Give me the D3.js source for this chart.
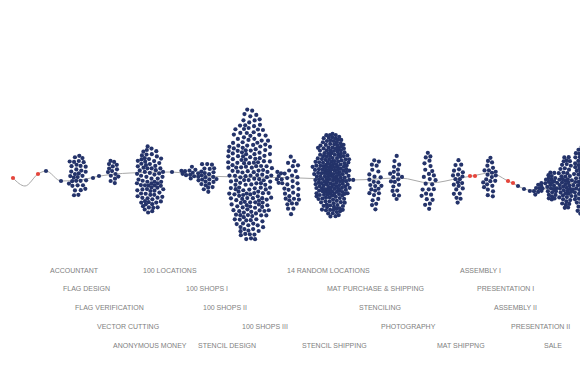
<!DOCTYPE html>
<html>
<head>
<meta charset="utf-8">
<script src="https://cdn.jsdelivr.net/npm/d3@7"></script>
<style>
  html, body { margin: 0; padding: 0; background: #fff; }
  svg { display: block; }
  .label { font-family: "Liberation Sans", Arial, sans-serif; font-size: 7px; fill: #808080; }
</style>
</head>
<body>
<div id="chart"></div>
<script>
// timeline in days, level = height above the base line
// clusters of events (center day, level, count, spread in days, spread in level)
var clusterDay   = [11.5, 15.25, 19.5, 23.25, 24.75, 28.25, 37.5, 43, 47.5, 51.75, 62.5, 70, 73, 83, 88, 93.75, 99, 107, 114.5, 122.5, 129.5, 131, 132.5, 134.5, 138, 141.5, 145.5];
var clusterLevel = [7, -3, 3, 0, 2, 6, -2, 6, 5, 1, 3, 0, -7, 3, -2, -6, 0, -4, -3, 0, -8, -11, -13, -11, -8, -4, -2];
var clusterCount = [1, 1, 34, 1, 1, 15, 85, 1, 11, 28, 200, 7, 32, 215, 1, 26, 20, 26, 22, 23, 1, 1, 1, 10, 28, 50, 80];
var clusterWidth = [0, 0, 5, 0, 0, 4, 7.5, 0, 3.5, 5, 11, 2.5, 4.5, 9, 0, 3.5, 3, 3.5, 3, 4, 0, 0, 0, 3, 3.5, 4, 4.5];
var clusterSpread = [0, 0, 48, 0, 0, 22, 73, 0, 16, 35, 150, 14, 67, 94, 0, 65, 52, 71, 57, 43, 0, 0, 0, 12, 32, 58, 85];

// milestones (red)
var milestoneDay   = [3.25, 9.5, 117.5, 118.75, 127, 128.25];
var milestoneLevel = [0, 4, 2, 2, -3, -5];

// path of the timeline
var lineDay   = [3.25, 6.25, 9.5, 11.5, 15.25, 20, 25, 32.5, 43, 50, 62.5, 75, 88, 100, 107.5, 115, 118, 122.5, 127.5, 132.5, 136.25, 145];
var lineLevel = [0, -8, 4, 7, -3, -2, 2, 5, 6, 2, 1, 0, -2, 0, -5, 0, 2, 5, -4, -12, -11, -3];

// task labels
var labelNames = ["ACCOUNTANT", "FLAG DESIGN", "FLAG VERIFICATION", "VECTOR CUTTING", "ANONYMOUS MONEY",
  "100 LOCATIONS", "100 SHOPS I", "100 SHOPS II", "100 SHOPS III", "STENCIL DESIGN",
  "14 RANDOM LOCATIONS", "MAT PURCHASE & SHIPPING", "STENCILING", "PHOTOGRAPHY", "STENCIL SHIPPING",
  "ASSEMBLY I", "PRESENTATION I", "ASSEMBLY II", "PRESENTATION II", "MAT SHIPPNG", "SALE"];
var labelDay = [12.5, 15.75, 18.75, 24.25, 28.25, 35.75, 46.5, 50.75, 60.5, 49.5,
  71.75, 81.75, 89.75, 95.25, 75.5, 115, 119.25, 123.5, 127.75, 109.25, 136];
var labelRow = [0, 1, 2, 3, 4, 0, 1, 2, 3, 4, 0, 1, 2, 3, 4, 0, 1, 2, 3, 4, 4];

var width = 580, height = 386;
var svg = d3.select("#chart").append("svg")
  .attr("width", width)
  .attr("height", height);

var x = d3.scaleLinear().domain([0, 145]).range([0, width]);
var y = d3.scaleLinear().domain([-100, 100]).range([278, 78]);
var row = d3.scalePoint().domain([0, 1, 2, 3, 4]).range([272.5, 347.5]);

// one node per event, all starting on the cluster center
var nodes = [];
clusterDay.forEach(function(d, c) {
  var n = clusterCount[c];
  var w = Math.max(x(clusterWidth[c]) - x(0), 1);
  var h = Math.max(clusterSpread[c], 1);
  var area = Math.PI * (w / 2) * (h / 2) / n;
  var base = n == 1 ? 2.2 : Math.min(3.4, Math.max(1.7, Math.sqrt(area / 3.46) * 0.92));
  var ky = n == 1 ? 0.6 : 0.03;
  var kx = n == 1 ? 0.6 : Math.min(0.45, ky * (h / w) * (h / w));
  for (var i = 0; i < n; i++) {
    // uneven spacing so the swarm does not pack into a lattice
    var k = (i * 0.618034 + c * 0.37) % 1;
    nodes.push({
      cx: x(d), cy: y(clusterLevel[c]), kx: kx, ky: ky,
      rc: n == 1 ? base : base * (0.7 + 0.6 * k),
      x: x(d), y: y(clusterLevel[c])
    });
  }
});

var sim = d3.forceSimulation(nodes)
  .force("x", d3.forceX(function(d) { return d.cx; }).strength(function(d) { return d.kx; }))
  .force("y", d3.forceY(function(d) { return d.cy; }).strength(function(d) { return d.ky; }))
  .force("collide", d3.forceCollide(function(d) { return d.rc; }).strength(0.8).iterations(3))
  .stop();
for (var t = 0; t < 400; t++) sim.tick();

var line = d3.line()
  .x(function(d, i) { return x(lineDay[i]); })
  .y(function(d, i) { return y(lineLevel[i]); })
  .curve(d3.curveMonotoneX);

svg.append("path")
  .datum(lineDay)
  .attr("fill", "none")
  .attr("stroke", "#a9a9a9")
  .attr("stroke-width", 1)
  .attr("d", line);

svg.append("g")
  .selectAll("circle")
  .data(nodes)
  .enter()
  .append("circle")
  .attr("cx", function(d) { return d.x; })
  .attr("cy", function(d) { return d.y; })
  .attr("r", 2.1)
  .attr("fill", "#24336a");

svg.append("g")
  .selectAll("circle")
  .data(milestoneDay)
  .enter()
  .append("circle")
  .attr("cx", function(d) { return x(d); })
  .attr("cy", function(d, i) { return y(milestoneLevel[i]); })
  .attr("r", 2.1)
  .attr("fill", "#e5453c");

svg.append("g")
  .selectAll("text")
  .data(labelNames)
  .enter()
  .append("text")
  .attr("class", "label")
  .attr("x", function(d, i) { return x(labelDay[i]); })
  .attr("y", function(d, i) { return row(labelRow[i]); })
  .text(function(d) { return d; });
</script>
</body>
</html>
